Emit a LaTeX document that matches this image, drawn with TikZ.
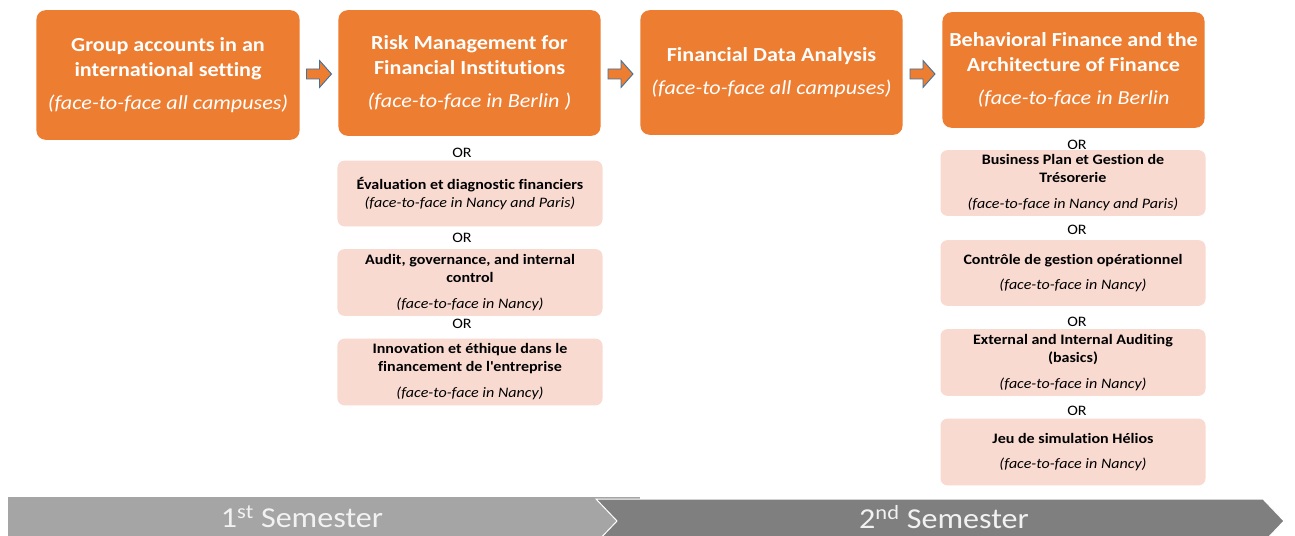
\documentclass[tikz,border=0pt]{standalone}
\usepackage{fontspec}
\setmainfont[FakeStretch=1.11,Ligatures={NoCommon}]{Carlito}
\usetikzlibrary{calc}
\definecolor{orangeA}{HTML}{ED7D31}
\definecolor{pinkA}{HTML}{F9DAD0}
\definecolor{arrowline}{HTML}{41719C}
\definecolor{semA}{HTML}{A5A5A5}
\definecolor{semB}{HTML}{7F7F7F}
\definecolor{semtext}{HTML}{F2F2F2}
\tikzset{
  obox/.style={fill=orangeA, rounded corners=9, text=white, align=center,
    font=\fontsize{20}{25}\selectfont\bfseries, inner sep=0},
  pbox/.style={fill=pinkA, rounded corners=7, text=black, align=center,
    font=\fontsize{14.5}{18}\selectfont\bfseries, inner sep=0,
    minimum width=266},
  ortext/.style={text=black, font=\fontsize{14.5}{16}\selectfont, inner sep=0},
  blockarrow/.style={fill=orangeA, draw=arrowline, line width=0.9bp, line join=miter},
  semtxt/.style={text=semtext, font=\fontsize{29}{32}\selectfont, inner sep=0}
}
\newcommand{\ffi}[1]{{\mdseries\itshape #1}}
\newcommand{\blockarrowat}[1]{%
  \draw[blockarrow] ($(#1)+(-12.5,-5)$) -- ++(13,0) -- ++(0,-8.5) -- ++(12,13.5)
     -- ++(-12,13.5) -- ++(0,-8.5) -- ++(-13,0) -- cycle;}
\begin{document}
\begin{tikzpicture}[x=1bp,y=-1bp]
\useasboundingbox[fill=white] (0,0) rectangle (1295,536);

% bottom semester bands
\fill[semA] (8,497) rectangle (640,548);
\draw[fill=semB, draw=white, line width=1bp] (596,499) -- (1263,499) -- (1284,521) -- (1263,543) -- (596,543) -- (617,521) -- cycle;
\fill[white] (0,536) rectangle (1295,560);
\node[semtxt] (sem1) at (302,517) {1\textsuperscript{st} Semester};
\node[semtxt] (sem2) at (944,517) {2\textsuperscript{nd} Semester};

% main orange boxes
\node[obox, minimum width=264, minimum height=130] (b1) at (168,75)
  {Group accounts in an\\international setting\\[8pt]\ffi{(face-to-face all campuses)}};
\node[obox, minimum width=263, minimum height=126] (b2) at (469.5,73)
  {Risk Management for\\Financial Institutions\\[8pt]\ffi{(face-to-face in Berlin )}};
\node[obox, minimum width=263, minimum height=125] (b3) at (771.5,72.5)
  {Financial Data Analysis\\[8pt]\ffi{(face-to-face all campuses)}};
\node[obox, minimum width=263, minimum height=116] (b4) at (1073.5,70)
  {Behavioral Finance and the\\Architecture of Finance\\[8pt]\ffi{(face-to-face in Berlin}};

% block arrows between boxes
\path ($(b1.east)!0.5!(b2.west)$) coordinate (m1);
\path ($(b2.east)!0.5!(b3.west)$) coordinate (m2);
\path ($(b3.east)!0.5!(b4.west)$) coordinate (m3);
\coordinate (a1) at (m1 |- 0,74);
\coordinate (a2) at (m2 |- 0,74);
\coordinate (a3) at (m3 |- 0,74);
\blockarrowat{a1}
\blockarrowat{a2}
\blockarrowat{a3}

% left column alternatives
\node[ortext] (or1) at (462,153) {OR};
\node[pbox, minimum height=66] (p1) at (470,193.5)
  {Évaluation et diagnostic financiers\\\ffi{(face-to-face in Nancy and Paris)}};
\node[ortext] (or2) at (462,238) {OR};
\node[pbox, minimum height=67] (p2) at (470,282.5)
  {Audit, governance, and internal\\control\\[8pt]\ffi{(face-to-face in Nancy)}};
\node[ortext] (or3) at (462,324) {OR};
\node[pbox, minimum height=67] (p3) at (470,372)
  {Innovation et éthique dans le\\financement de l\textquotesingle entreprise\\[8pt]\ffi{(face-to-face in Nancy)}};

% right column alternatives
\node[ortext] (or4) at (1077,145) {OR};
\node[pbox, minimum height=66] (p4) at (1073,183)
  {Business Plan et Gestion de\\Trésorerie\\[8pt]\ffi{(face-to-face in Nancy and Paris)}};
\node[ortext] (or5) at (1077,230) {OR};
\node[pbox, minimum height=66] (p5) at (1073,273)
  {Contrôle de gestion opérationnel\\[7pt]\ffi{(face-to-face in Nancy)}};
\node[ortext] (or6) at (1077,322) {OR};
\node[pbox, minimum height=67] (p6) at (1073,362.5)
  {External and Internal Auditing\\(basics)\\[8pt]\ffi{(face-to-face in Nancy)}};
\node[ortext] (or7) at (1077,411) {OR};
\node[pbox, minimum height=67] (p7) at (1073,452)
  {Jeu de simulation Hélios\\[7pt]\ffi{(face-to-face in Nancy)}};
\end{tikzpicture}
\end{document}
